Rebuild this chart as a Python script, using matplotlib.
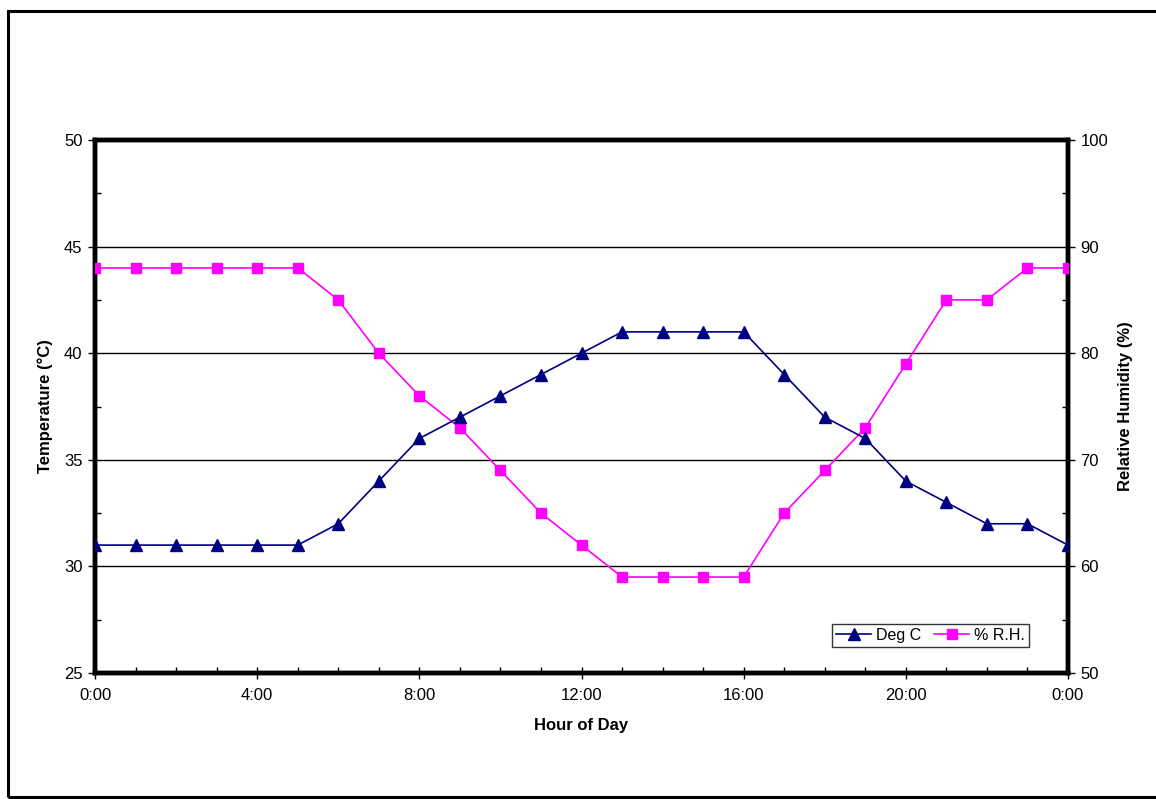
#!/usr/bin/env python3
"""Daily temperature / relative humidity profile (Excel-style dual axis chart)."""

import matplotlib
matplotlib.use("Agg")
import matplotlib.pyplot as plt
from matplotlib.patches import Rectangle
from matplotlib.ticker import MultipleLocator

plt.rcParams["font.family"] = ["Liberation Sans", "DejaVu Sans"]

# ------------------------------- data ---------------------------------------
hours = list(range(25))
hour_ticks = [0, 4, 8, 12, 16, 20, 24]
hour_labels = ["0:00", "4:00", "8:00", "12:00", "16:00", "20:00", "0:00"]

deg_c = [31, 31, 31, 31, 31, 31, 32, 34, 36, 37, 38, 39, 40,
         41, 41, 41, 41, 39, 37, 36, 34, 33, 32, 32, 31]
rh_pct = [88, 88, 88, 88, 88, 88, 85, 80, 76, 73, 69, 65, 62,
          59, 59, 59, 59, 65, 69, 73, 79, 85, 85, 88, 88]

NAVY = "#000080"
MAGENTA = "#FF00FF"


def main() -> None:
    fig = plt.figure(figsize=(11.56, 7.99), dpi=100)
    # outer chart border
    fig.patches.append(Rectangle((8 / 1156, 2 / 799), 1.2, 786 / 799,
                                 transform=fig.transFigure, fill=False,
                                 edgecolor="black", linewidth=2.2))

    ax = fig.add_axes([95 / 1156, 1 - 673 / 799, 973 / 1156, 533 / 799])
    ax2 = ax.twinx()

    # temperature on the left axis
    ax.set_xlim(0, 24)
    ax.set_ylim(25, 50)
    ax.yaxis.set_major_locator(MultipleLocator(5))
    ax.yaxis.set_minor_locator(MultipleLocator(2.5))
    ax.set_xticks(hour_ticks)
    ax.set_xticklabels(hour_labels)
    ax.xaxis.set_minor_locator(MultipleLocator(1))
    for y in [30, 35, 40, 45]:
        ax.axhline(y, color="black", linewidth=1.0, zorder=1)

    # humidity on the right axis
    ax2.set_ylim(50, 100)
    ax2.yaxis.set_major_locator(MultipleLocator(10))
    ax2.yaxis.set_minor_locator(MultipleLocator(5))

    l1, = ax2.plot(hours, deg_c, color=NAVY, marker="^", markersize=8,
                   linewidth=1.2, label="Deg C", zorder=4,
                   transform=ax.transData)
    l2, = ax2.plot(hours, rh_pct, color=MAGENTA, marker="s", markersize=7,
                   linewidth=1.2, label="% R.H.", zorder=3)

    for a in (ax, ax2):
        for s in a.spines.values():
            s.set_linewidth(3.2)
            s.set_color("black")
        a.tick_params(which="major", labelsize=12, length=5, width=1,
                      colors="black")
        a.tick_params(which="minor", length=4, width=1, direction="in")
    ax.tick_params(axis="x", which="major", direction="inout", length=9, pad=6)
    ax.tick_params(axis="y", which="major", direction="out", pad=4)
    ax2.tick_params(axis="y", which="major", direction="out", pad=4)

    ax.set_ylabel("Temperature (°C)", fontsize=12, fontweight="bold",
                  labelpad=8)
    ax2.set_ylabel("Relative Humidity (%)", fontsize=12, fontweight="bold",
                   labelpad=7)
    ax.set_xlabel("Hour of Day", fontsize=12, fontweight="bold", labelpad=11)

    leg = ax2.legend(handles=[l1, l2], ncol=2, loc="lower right",
                     bbox_to_anchor=(0.96, 0.049), fontsize=11.5,
                     frameon=True, fancybox=False, handlelength=2.2,
                     handletextpad=0.3, columnspacing=0.8, borderpad=0.25,
                     borderaxespad=0)
    leg.get_frame().set_edgecolor("black")
    leg.get_frame().set_linewidth(1.0)

    fig.savefig("out.png", dpi=100)


if __name__ == "__main__":
    main()
